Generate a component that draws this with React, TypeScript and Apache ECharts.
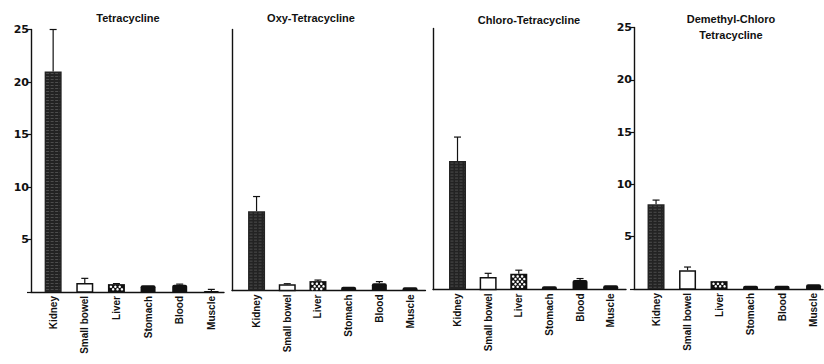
import React, { useEffect, useRef } from "react";
import * as echarts from "echarts";

const categories = ["Kidney", "Small bowel", "Liver", "Stomach", "Blood", "Muscle"];
const panelTitles = ["Tetracycline", "Oxy-Tetracycline", "Chloro-Tetracycline", "Demethyl-Chloro\nTetracycline"];

const tetracycline = [21.0, 0.85, 0.75, 0.65, 0.7, 0.1];
const tetracyclineErr = [4.0, 0.45, 0.05, 0, 0.05, 0.15];
const oxyTetracycline = [7.6, 0.6, 0.9, 0.35, 0.7, 0.3];
const oxyTetracyclineErr = [1.4, 0.05, 0.1, 0, 0.15, 0];
const chloroTetracycline = [12.3, 1.2, 1.5, 0.3, 0.9, 0.4];
const chloroTetracyclineErr = [2.3, 0.35, 0.35, 0, 0.15, 0];
const demethylChloro = [8.1, 1.8, 0.75, 0.3, 0.3, 0.45];
const demethylChloroErr = [0.4, 0.3, 0, 0, 0, 0];

const yTicks = [0, 5, 10, 15, 20, 25];

const panelValues = [tetracycline, oxyTetracycline, chloroTetracycline, demethylChloro];
const panelErrors = [tetracyclineErr, oxyTetracyclineErr, chloroTetracyclineErr, demethylChloroErr];

const INK = "#111";

const grids = [
  { left: 31, top: 29.5, width: 193, height: 262.5, min: -0.7, max: 5.4, labels: true },
  { left: 232, top: 29.5, width: 193.4, height: 261, min: -0.8, max: 5.5, labels: false },
  { left: 433, top: 28.5, width: 193, height: 261, min: -0.8, max: 5.5, labels: false },
  { left: 634, top: 27.5, width: 189, height: 261.5, min: -0.7, max: 5.3, labels: true },
];

const titlePos = [
  { x: 128, y: 18 },
  { x: 311, y: 18 },
  { x: 529, y: 19.5 },
  { x: 731, y: 27 },
];

function renderBar(params: any, api: any) {
  const i = api.value(0);
  const v = api.value(1);
  const e = api.value(2);
  const base = api.coord([i, 0]);
  const top = api.coord([i, v]);
  const w = 17;
  const x = base[0] - w / 2;
  const h = base[1] - top[1];
  const children: any[] = [];
  if (i === 0) {
    children.push({ type: "rect", shape: { x, y: top[1], width: w, height: h }, style: { fill: "#232323" } });
    for (let yy = top[1] + 2; yy < base[1] - 1; yy += 3) {
      children.push({
        type: "line",
        shape: { x1: x + 1.5, y1: yy, x2: x + w - 1.5, y2: yy },
        style: { stroke: "rgba(255,255,255,0.28)", lineWidth: 0.7, lineDash: [3, 1.5] },
      });
    }
  } else if (i === 1) {
    children.push({
      type: "rect",
      shape: { x: x + 0.75, y: top[1] + 0.75, width: w - 1.5, height: h - 0.75 },
      style: { fill: "#fff", stroke: INK, lineWidth: 1.5 },
    });
  } else if (i === 2) {
    children.push({ type: "rect", shape: { x, y: top[1], width: w, height: h }, style: { fill: INK } });
    let row = 0;
    for (let yy = top[1] + 2.6; yy < base[1] - 1.5; yy += 2.6) {
      const off = row % 2 === 0 ? 3 : 5.2;
      for (let xx = x + off; xx < x + w - 1.8; xx += 4.4) {
        children.push({ type: "circle", shape: { cx: xx, cy: yy, r: 1.25 }, style: { fill: "#fff" } });
      }
      row++;
    }
  } else {
    children.push({
      type: "rect",
      shape: { x: x + 1, y: top[1], width: w - 2, height: h, r: [2, 2, 0, 0] },
      style: { fill: INK },
    });
  }
  if (e > 0) {
    const et = api.coord([i, v + e]);
    children.push({
      type: "line",
      shape: { x1: base[0], y1: top[1], x2: base[0], y2: et[1] },
      style: { stroke: INK, lineWidth: 1.2 },
    });
    children.push({
      type: "line",
      shape: { x1: base[0] - 3.5, y1: et[1], x2: base[0] + 3.5, y2: et[1] },
      style: { stroke: INK, lineWidth: 1.2 },
    });
  }
  return { type: "group", children };
}

function xLabel(v: number) {
  const r = Math.round(v);
  if (Math.abs(v - r) < 1e-6 && r >= 0 && r < categories.length) return categories[r];
  return "";
}

export default function App() {
  const ref = useRef<HTMLDivElement>(null);
  useEffect(() => {
    if (!ref.current) return;
    const chart = echarts.init(ref.current, undefined, { renderer: "svg" });
    const option: any = {
      animation: false,
      backgroundColor: "#fff",
      grid: grids.map((g) => ({ left: g.left, top: g.top, width: g.width, height: g.height })),
      xAxis: grids.map((g, k) => ({
        type: "value",
        gridIndex: k,
        min: g.min,
        max: g.max,
        interval: 0.1,
        axisLine: { show: true, onZero: false, lineStyle: { color: INK, width: 1.4 } },
        axisTick: { show: false },
        splitLine: { show: false },
        axisLabel: {
          rotate: 90,
          margin: 4,
          fontSize: 10,
          fontWeight: "bold",
          fontFamily: "Liberation Sans",
          color: INK,
          formatter: xLabel,
        },
      })),
      yAxis: grids.map((g, k) => ({
        type: "value",
        gridIndex: k,
        min: yTicks[0],
        max: yTicks[yTicks.length - 1],
        interval: 5,
        axisLine: { show: true, onZero: false, lineStyle: { color: INK, width: 1.4 } },
        axisTick: { show: g.labels, length: 4, lineStyle: { color: INK, width: 1.2 } },
        splitLine: { show: false },
        axisLabel: {
          show: g.labels,
          margin: 2,
          fontSize: 11,
          fontWeight: "bold",
          fontFamily: "DejaVu Sans",
          color: INK,
          formatter: (v: number) => (v === 0 ? "" : String(v)),
        },
      })),
      graphic: panelTitles.map((t, k) => ({
        type: "text",
        x: titlePos[k].x,
        y: titlePos[k].y,
        style: {
          text: t,
          align: "center",
          verticalAlign: "middle",
          font: "bold 11px 'Liberation Sans'",
          lineHeight: 16,
          fill: INK,
        },
      })),
      series: panelValues.map((vals, k) => ({
        type: "custom",
        xAxisIndex: k,
        yAxisIndex: k,
        renderItem: renderBar,
        clip: false,
        data: vals.map((v, i) => [i, v, panelErrors[k][i]]),
      })),
    };
    chart.setOption(option);
    return () => chart.dispose();
  }, []);
  return (
    <div
      ref={ref}
      style={{ position: "fixed", left: 0, top: 0, width: 824, height: 364, background: "#fff" }}
    />
  );
}
